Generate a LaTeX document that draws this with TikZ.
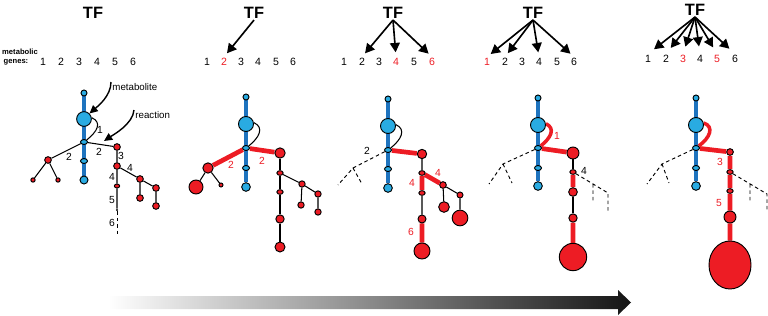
\documentclass[tikz,border=0pt]{standalone}
\usepackage{fontspec}
\setmainfont{Liberation Sans}
\usepackage{tikz}
\usetikzlibrary{
  arrows.meta,
  shapes.geometric,
  backgrounds
}
\definecolor{metfill}{RGB}{41,171,226}
\definecolor{metline}{RGB}{30,115,190}
\definecolor{rxnred}{RGB}{237,28,36}

\begin{document}
\begin{tikzpicture}[
    x=0.03cm, y=-0.03cm,
    tf/.style={font=\fontsize{14}{16}\selectfont\bfseries, inner sep=1pt},
    gnum/.style={font=\fontsize{9}{10}\selectfont, inner sep=1pt},
    hit/.style={gnum, text=rxnred},
    elbl/.style={font=\fontsize{8.8}{10}\selectfont, inner sep=0pt},
    redlbl/.style={elbl, text=rxnred},
    note/.style={font=\fontsize{8.3}{10}\selectfont, inner sep=1pt, anchor=west},
    met/.style={circle, draw, line width=0.8pt, fill=metfill, inner sep=0pt, minimum size=#1},
    metov/.style={ellipse, draw, line width=0.8pt, fill=metfill, inner sep=0pt, minimum width=0.21cm, minimum height=0.15cm},
    rxn/.style={circle, draw, line width=0.8pt, fill=rxnred, inner sep=0pt, minimum size=#1},
    rxnov/.style={ellipse, draw, line width=0.8pt, fill=rxnred, inner sep=0pt, minimum width=0.19cm, minimum height=0.14cm},
    backbone/.style={line width=4.2pt, metline},
    hot/.style={line width=4pt, rxnred},
    link/.style={line width=0.9pt},
    ghost/.style={line width=0.8pt, dash pattern=on 3pt off 2.5pt},
    tfarr/.style={-{Triangle[length=8pt,width=8.5pt]}, line width=1.4pt, shorten >=4pt},
    curly/.style={-{Triangle[length=7pt,width=6.5pt]}, line width=1.2pt},
  ]
    \useasboundingbox (0,0) rectangle (768,316);

    % panel 1
    \node[tf] (tf1) at (93,13) {TF};
    \node[font=\fontsize{6.5}{7}\selectfont\bfseries, inner sep=0pt] (lblmet) at (20,52) {metabolic};
    \node[font=\fontsize{6.5}{7}\selectfont\bfseries, inner sep=0pt] (lblgenes) at (16,62) {genes:};
    \node[gnum] (g1a) at (43,62) {1};
    \node[gnum] (g1b) at (61,62) {2};
    \node[gnum] (g1c) at (79,62) {3};
    \node[gnum] (g1d) at (97,62) {4};
    \node[gnum] (g1e) at (115,62) {5};
    \node[gnum] (g1f) at (133,62) {6};

    \node[met=0.18cm] (m1a) at (84,93) {};
    \node[met=0.44cm] (m1b) at (84,119) {};
    \node[metov]      (m1c) at (84,142) {};
    \node[metov]      (m1d) at (84,161) {};
    \node[met=0.24cm] (m1e) at (84,180) {};

    \node[rxn=0.2cm]  (r1a) at (117,147) {};
    \node[rxn=0.2cm]  (r1b) at (48,160) {};
    \node[rxn=0.13cm] (r1c) at (33,180) {};
    \node[rxn=0.13cm] (r1d) at (58,180) {};
    \node[rxn=0.2cm]  (r1e) at (117,166) {};
    \node[rxnov, minimum width=0.16cm, minimum height=0.12cm] (r1f) at (117,186) {};
    \node[circle, fill, inner sep=0pt, minimum size=0.07cm] (r1g) at (117,210) {};
    \node[rxn=0.2cm]  (r1h) at (140,179) {};
    \node[rxn=0.2cm]  (r1i) at (156,188) {};
    \node[rxn=0.2cm]  (r1j) at (140,198) {};
    \node[rxn=0.2cm]  (r1k) at (156,206) {};
    \coordinate (r1end) at (117,236);
    \coordinate (rxnpt) at (104,141);

    \node[elbl] (l1a) at (100,130) {1};
    \node[elbl] (l1b) at (99,152) {2};
    \node[elbl] (l1c) at (69,157) {2};
    \node[elbl] (l1d) at (121,156) {3};
    \node[elbl] (l1e) at (130,168) {4};
    \node[elbl] (l1f) at (112,177) {4};
    \node[elbl] (l1g) at (112,200) {5};
    \node[elbl] (l1h) at (112,223) {6};

    \node[note] (metlbl) at (111,87) {metabolite};
    \node[note] (rxnlbl) at (134,115) {reaction};
    \draw[curly] (metlbl.north west) .. controls +(0,14) and +(8,-7) .. (m1b.north east);
    \draw[curly] (rxnlbl.north west) .. controls +(-1,14) and +(9,-6) .. (rxnpt);

    % panel 2
    \node[tf] (tf2) at (254,13) {TF};
    \node[gnum] (g2a) at (207,62) {1};
    \node[hit]  (g2b) at (224,62) {2};
    \node[gnum] (g2c) at (241,62) {3};
    \node[gnum] (g2d) at (258,62) {4};
    \node[gnum] (g2e) at (276,62) {5};
    \node[gnum] (g2f) at (293,62) {6};
    \draw[tfarr] (tf2.south) -- (g2b.north);

    \node[met=0.18cm] (m2a) at (246,97) {};
    \node[met=0.45cm] (m2b) at (246,124) {};
    \node[metov]      (m2c) at (246,148) {};
    \node[metov]      (m2d) at (246,168) {};
    \node[met=0.26cm] (m2e) at (246,187) {};

    \node[rxn=0.31cm] (r2a) at (280,153) {};
    \node[rxn=0.31cm] (r2b) at (208,168) {};
    \node[rxn=0.42cm] (r2c) at (196,187) {};
    \node[rxn=0.12cm] (r2d) at (221,185) {};
    \node[rxnov]      (r2e) at (280,173) {};
    \node[rxnov]      (r2f) at (280,192) {};
    \node[rxn=0.25cm] (r2g) at (280,219) {};
    \node[rxn=0.3cm]  (r2h) at (280,247) {};
    \node[rxn=0.19cm] (r2i) at (302,184) {};
    \node[rxn=0.19cm] (r2j) at (318,194) {};
    \node[rxn=0.19cm] (r2k) at (301,205) {};
    \node[rxn=0.19cm] (r2l) at (318,212) {};

    \node[redlbl] (l2a) at (231,165) {2};
    \node[redlbl] (l2b) at (262,161) {2};

    % panel 3
    \node[tf] (tf3) at (393,13) {TF};
    \node[gnum] (g3a) at (344,62) {1};
    \node[gnum] (g3b) at (362,62) {2};
    \node[gnum] (g3c) at (379,62) {3};
    \node[hit]  (g3d) at (396,62) {4};
    \node[gnum] (g3e) at (414,62) {5};
    \node[hit]  (g3f) at (432,62) {6};
    \draw[tfarr] (tf3.south) -- (g3b.north);
    \draw[tfarr] (tf3.south) -- (g3d.north);
    \draw[tfarr] (tf3.south) -- (g3f.north);

    \node[met=0.18cm] (m3a) at (388,99) {};
    \node[met=0.45cm] (m3b) at (388,126) {};
    \node[metov]      (m3c) at (388,150) {};
    \node[metov]      (m3d) at (388,169) {};
    \node[met=0.26cm] (m3e) at (388,188) {};
    \coordinate (d3a) at (353,168);
    \coordinate (d3b) at (338,185);
    \coordinate (d3c) at (362,184);

    \node[rxn=0.28cm] (r3a) at (422,154) {};
    \node[rxnov]      (r3b) at (422,173) {};
    \node[rxn=0.2cm]  (r3c) at (443,185) {};
    \node[rxn=0.18cm] (r3d) at (460,195) {};
    \node[rxn=0.32cm] (r3e) at (444,207) {};
    \node[rxn=0.47cm] (r3f) at (460,218) {};
    \node[rxnov]      (r3g) at (422,193) {};
    \node[rxn=0.24cm] (r3h) at (422,219) {};
    \node[rxn=0.48cm] (r3i) at (422,251) {};

    \node[elbl]   (l3a) at (367,151) {2};
    \node[redlbl] (l3b) at (438,173) {4};
    \node[redlbl] (l3c) at (412,183) {4};
    \node[redlbl] (l3d) at (411,232) {6};

    % panel 4
    \node[tf] (tf4) at (533,13) {TF};
    \node[hit]  (g4a) at (487,62) {1};
    \node[gnum] (g4b) at (505,62) {2};
    \node[gnum] (g4c) at (522,62) {3};
    \node[gnum] (g4d) at (539,62) {4};
    \node[gnum] (g4e) at (557,62) {5};
    \node[gnum] (g4f) at (574,62) {6};
    \draw[tfarr] (tf4.south) -- (g4a.north);
    \draw[tfarr] (tf4.south) -- (g4b.north);
    \draw[tfarr] (tf4.south) -- (g4d.north);
    \draw[tfarr] (tf4.south) -- (g4f.north);

    \node[met=0.18cm] (m4a) at (538,98) {};
    \node[met=0.45cm] (m4b) at (538,125) {};
    \node[metov]      (m4c) at (538,148) {};
    \node[metov]      (m4d) at (538,168) {};
    \node[met=0.26cm] (m4e) at (538,186) {};
    \coordinate (d4a) at (503,164);
    \coordinate (d4b) at (489,184);
    \coordinate (d4c) at (512,183);

    \node[rxn=0.36cm] (r4a) at (573,153) {};
    \node[rxnov]      (r4b) at (573,172) {};
    \node[rxn=0.26cm] (r4c) at (573,192) {};
    \node[rxn=0.25cm] (r4d) at (573,218) {};
    \node[rxn=0.82cm] (r4e) at (573,257) {};
    \coordinate (d4d) at (593,184);
    \coordinate (d4e) at (608,193);
    \coordinate (d4f) at (593,203);
    \coordinate (d4g) at (608,211);

    \node[redlbl] (l4a) at (557,136) {1};
    \node[elbl]   (l4b) at (584,171) {4};

    % panel 5
    \node[tf] (tf5) at (695,10) {TF};
    \node[gnum] (g5a) at (648,59) {1};
    \node[gnum] (g5b) at (666,59) {2};
    \node[hit]  (g5c) at (683,59) {3};
    \node[gnum] (g5d) at (700,59) {4};
    \node[hit]  (g5e) at (717,59) {5};
    \node[gnum] (g5f) at (735,59) {6};
    \draw[tfarr, shorten >=6.5pt] (tf5.south) -- (g5a.north);
    \draw[tfarr, shorten >=6.5pt] (tf5.south) -- (g5b.north);
    \draw[tfarr, shorten >=6.5pt] (tf5.south) -- (g5c.north);
    \draw[tfarr, shorten >=6.5pt] (tf5.south) -- (g5d.north);
    \draw[tfarr, shorten >=6.5pt] (tf5.south) -- (g5e.north);
    \draw[tfarr, shorten >=6.5pt] (tf5.south) -- (g5f.north);

    \node[met=0.18cm] (m5a) at (696,98) {};
    \node[met=0.45cm] (m5b) at (696,125) {};
    \node[metov]      (m5c) at (696,148) {};
    \node[metov]      (m5d) at (696,168) {};
    \node[met=0.26cm] (m5e) at (696,186) {};
    \coordinate (d5a) at (662,164);
    \coordinate (d5b) at (647,184);
    \coordinate (d5c) at (669,183);

    \node[rxn=0.2cm]  (r5a) at (730,152) {};
    \node[rxnov]      (r5b) at (730,172) {};
    \node[rxnov]      (r5c) at (730,191) {};
    \node[rxn=0.36cm] (r5d) at (730,217) {};
    \node[ellipse, draw, line width=0.8pt, fill=rxnred, inner sep=0pt,
          minimum width=1.26cm, minimum height=1.44cm] (r5e) at (730,265) {};
    \coordinate (d5d) at (750,184);
    \coordinate (d5e) at (767,194);
    \coordinate (d5f) at (750,203);
    \coordinate (d5g) at (767,211);

    \node[redlbl] (l5a) at (720,162) {3};
    \node[redlbl] (l5b) at (719,203) {5};

    \begin{scope}[on background layer]
      \draw[backbone] (m1a) -- (m1e);
      \draw[backbone] (m2a) -- (m2e);
      \draw[backbone] (m3a) -- (m3e);
      \draw[backbone] (m4a) -- (m4e);
      \draw[backbone] (m5a) -- (m5e);

      \draw[link] (m1c) -- (r1a) -- (r1e) -- (r1f) -- (r1g);
      \draw[link] (m1c) -- (r1b) -- (r1c) (r1b) -- (r1d);
      \draw[link] (r1e) -- (r1h) -- (r1i) -- (r1k) (r1h) -- (r1j);
      \draw[link, ghost] (r1g) -- (r1end);
      \draw[link] (m1b.10) .. controls +(11,5) and +(10,-8) .. (m1c.north east);

      \draw[hot] (m2c) -- (r2a) (m2c) -- (r2b);
      \draw[link] (r2b) -- (r2c) (r2b) -- (r2d);
      \draw[link] (r2a) -- (r2e) -- (r2f) -- (r2g) -- (r2h);
      \draw[link] (r2e) -- (r2i) -- (r2j) -- (r2l) (r2i) -- (r2k);
      \draw[link] (m2b.10) .. controls +(11,5) and +(10,-8) .. (m2c.north east);

      \draw[ghost] (m3c) -- (d3a) -- (d3b) (d3a) -- (d3c);
      \draw[hot] (m3c) -- (r3a) (r3b) -- (r3c) (r3b) -- (r3g) (r3h) -- (r3i);
      \draw[link] (r3a) -- (r3b) (r3c) -- (r3d) -- (r3f) (r3c) -- (r3e) (r3g) -- (r3h);
      \draw[link] (m3b.10) .. controls +(11,5) and +(10,-8) .. (m3c.north east);

      \draw[ghost] (m4c) -- (d4a) -- (d4b) (d4a) -- (d4c);
      \draw[ghost] (r4b) -- (d4e) -- (d4g) (d4d) -- (d4f);
      \draw[hot] (m4c) -- (r4a) (r4b) -- (r4c) (r4d) -- (r4e);
      \draw[link] (r4a) -- (r4b) (r4c) -- (r4d);
      \draw[hot, line width=3pt] (m4b.10) .. controls +(10,5) and +(10,-8) .. (m4c.north east);

      \draw[ghost] (m5c) -- (d5a) -- (d5b) (d5a) -- (d5c);
      \draw[ghost] (r5b) -- (d5e) -- (d5g) (d5d) -- (d5f);
      \draw[hot] (m5c) -- (r5a) -- (r5b) -- (r5c) -- (r5d) -- (r5e);
      \draw[hot, line width=3pt] (m5b.15) .. controls +(11,4) and +(11,-8) .. (m5c.north east);
    \end{scope}

    \shade[left color=white, middle color=black!28, right color=black!92]
      (108,296) -- (618,296) -- (618,290) -- (631,302.5) -- (618,315) -- (618,309) -- (108,309) -- cycle;
\end{tikzpicture}
\end{document}
